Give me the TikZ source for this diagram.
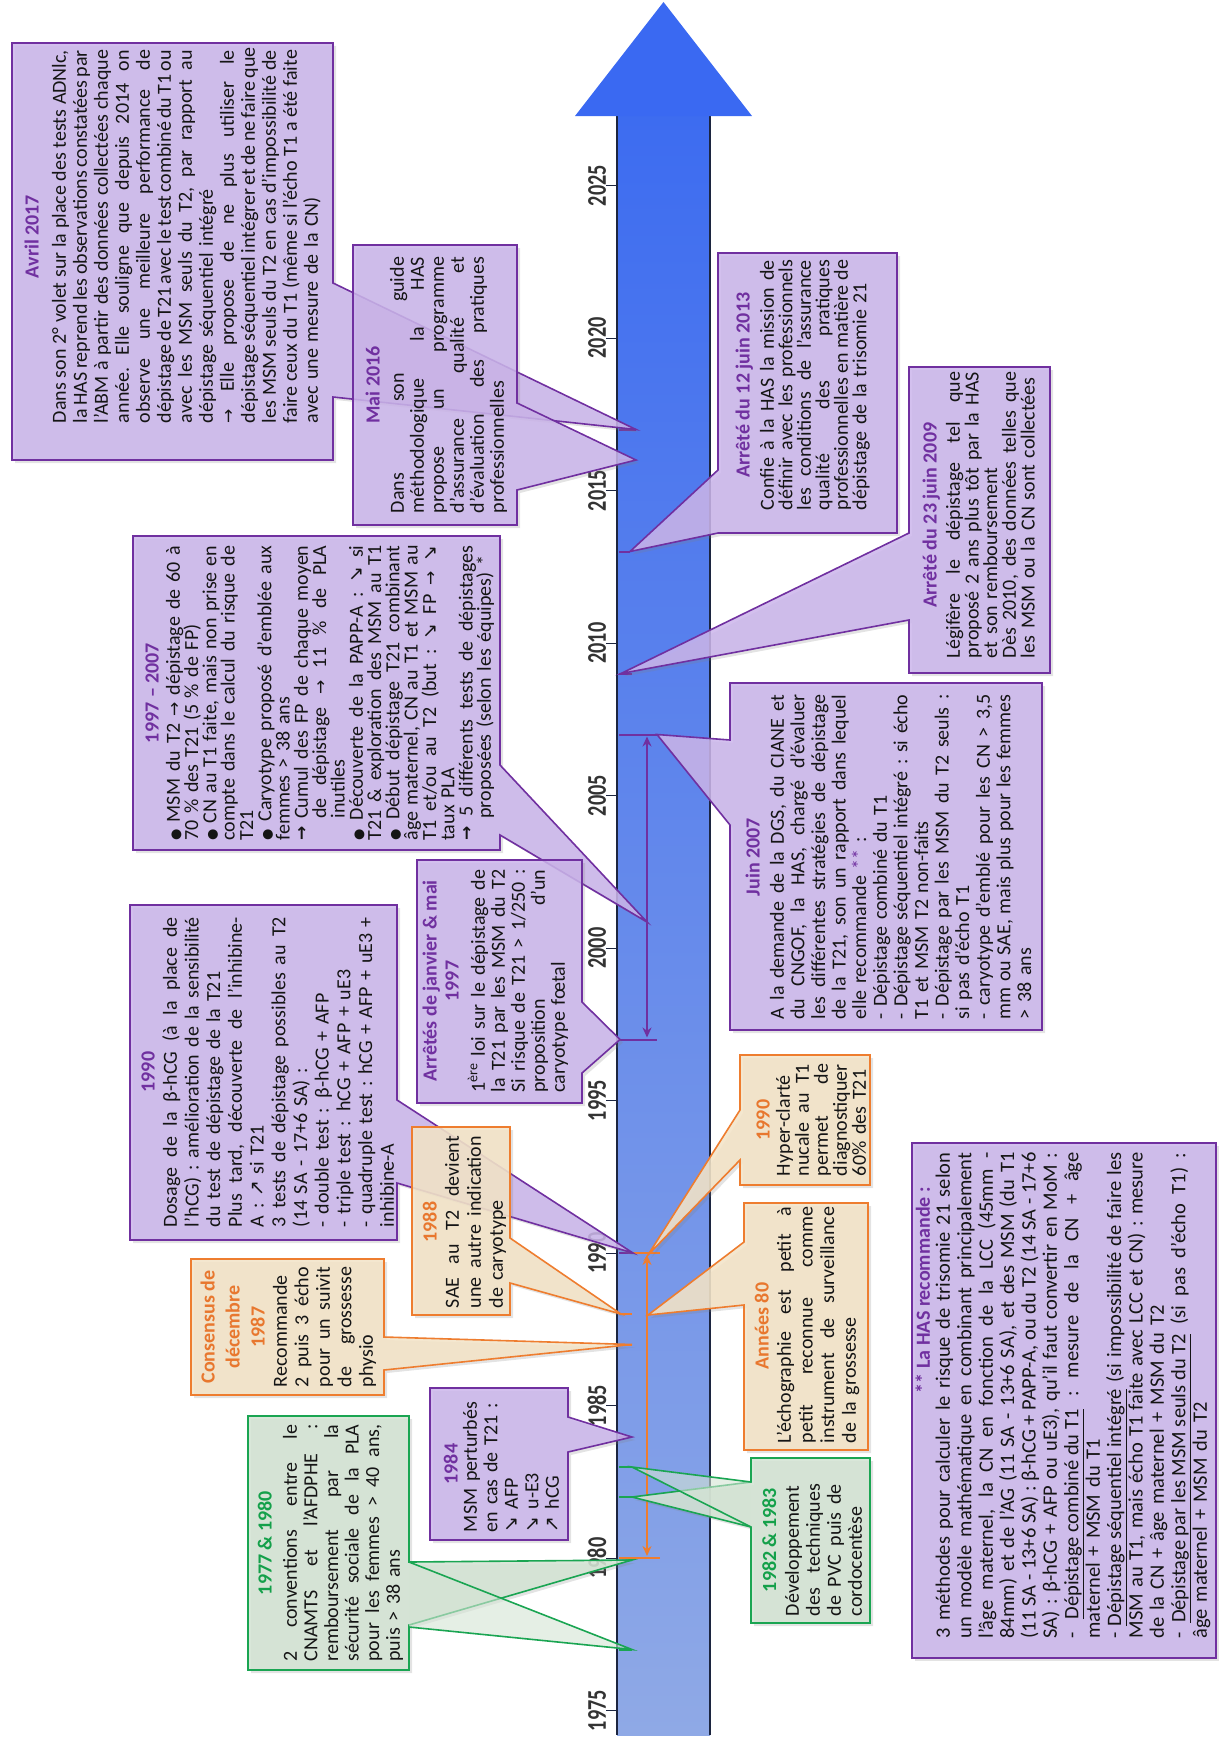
\documentclass[tikz,border=0pt]{standalone}
\usepackage{fontspec}
\setmainfont{Carlito}
\newfontfamily\symf{DejaVu Sans}
\usetikzlibrary{arrows.meta,shadows}
\setlength{\parindent}{0pt}

\definecolor{pvio}{HTML}{7030A0}
\definecolor{pfill}{HTML}{CBB5EB}
\definecolor{oline}{HTML}{EE7D2F}
\definecolor{ofill}{HTML}{F3E4C8}
\definecolor{otitle}{HTML}{E8772E}
\definecolor{gline}{HTML}{1AA552}
\definecolor{gfill}{HTML}{D4E4D4}
\definecolor{gtitle}{HTML}{14A04A}
\definecolor{shafttop}{HTML}{3D6CF0}
\definecolor{shaftbot}{HTML}{8FA9E6}
\definecolor{headblue}{HTML}{3A69F2}
\definecolor{axisline}{HTML}{1C2540}
\definecolor{txt}{HTML}{151515}

% width of the text lines of the current block
\newlength\lw
% one justified line / one left-aligned line of a text block
\newcommand\lj[1]{\noindent\hbox to \lw{\spaceskip=0.226em plus 1fil minus 0.06em\xspaceskip=\spaceskip\rule{0pt}{0.9em}#1}\par}
\newcommand\lf[1]{\noindent\hbox to \lw{\rule{0pt}{0.9em}#1\hfil}\par}
\newcommand\rarr{{\symf\fontsize{17}{17}\selectfont →}}
\newcommand\barr{{\symf\bfseries\fontsize{17}{17}\selectfont →}}
\newcommand\arrup{{\symf\fontsize{19}{19}\selectfont ↗}}
\newcommand\arrdn{{\symf\fontsize{19}{19}\selectfont ↘}}
\newcommand\bul{{\symf\fontsize{13}{13}\selectfont ●}}

\tikzset{
  shd/.style={drop shadow={opacity=0.22, shadow xshift=3pt, shadow yshift=-3pt}},
  pbox/.style={shd, draw=pvio, line width=1.6pt, fill=pfill, fill opacity=0.85, line join=miter},
  obox/.style={shd, draw=oline, line width=1.6pt, fill=ofill, fill opacity=0.88, line join=miter},
  gbox/.style={shd, draw=gline, line width=1.6pt, fill=gfill, fill opacity=0.88, line join=miter},
  body/.style={rotate=90, anchor=north, inner sep=0pt, text width=#1, text=txt,
    execute at begin node={\setlength{\lw}{#1}}},
  pitch/.style={font={\fontsize{20}{#1}\selectfont\lineskiplimit=-100pt}},
  ttl/.style={rotate=90, anchor=base, inner sep=0pt, font=\fontsize{20}{20}\selectfont\bfseries, text=#1},
  yrlab/.style={rotate=90, inner sep=0pt, text=black!80, font=\fontsize{27}{27}\selectfont\bfseries},
  mkp/.style={draw=pvio, line width=2pt},
  mko/.style={draw=oline, line width=2pt},
  mkg/.style={draw=gline, line width=2pt},
}

\begin{document}
\begin{tikzpicture}[x=1pt,y=-1pt]
\useasboundingbox (0,0) rectangle (1219,1737);

% ---------- time axis ----------
\shade[top color=shafttop, bottom color=shaftbot] (617,116) rectangle (710,1735);
\draw[axisline, line width=1.8pt] (617,116) -- (617,1735) (710,116) -- (710,1735);
\fill[headblue] (575,116) -- (663.5,2) -- (752,116) -- cycle;
\foreach \yr in {1975,1980,...,2025}{
  \pgfmathsetmacro\yy{1253-30.5*(\yr-1990)}
  \draw[axisline, line width=1pt] (606,\yy) -- (617,\yy);
  \node[yrlab] (yr\yr) at (597,\yy) {\scalebox{0.75}[1]{\yr}};
}

% ---------- event marks ----------
\coordinate (m17) at (636,429.5);  \draw[mkp] (619,429.5) -- (m17);
\coordinate (m16) at (636,460);    \draw[mkp] (619,460) -- (m16);
\coordinate (m13) at (630,551.5);  \draw[mkp] (619,551.5) -- (m13);
\coordinate (m09) at (621,673.5);  \draw[mkp] (619,673.5) -- (632,673.5);
\coordinate (r07) at (657,734.5);  \draw[mkp] (619,734.5) -- (r07);
\coordinate (r97) at (657,1039.5); \draw[mkp] (619,1039.5) -- (r97);
\draw[mkp, {Stealth[length=10pt,width=9pt]}-{Stealth[length=10pt,width=9pt]}] (647,736.5) -- (647,1037.5);
\coordinate (mrng) at (647,922);
\coordinate (m97) at (620,1039.5);
\coordinate (m90p) at (633,1253);  \draw[mkp] (619,1253) -- (m90p);
\coordinate (m90o) at (648,1255);  \draw[mko] (633,1253) -- (660,1253);
\coordinate (r80) at (660,1558);   \draw[mko] (619,1558) -- (r80);
\draw[mko, {Stealth[length=10pt,width=9pt]}-{Stealth[length=10pt,width=9pt]}] (647,1255) -- (647,1556);
\coordinate (m88) at (621,1314);   \draw[mko] (619,1314) -- (632,1314);
\coordinate (m88o) at (648,1315);
\coordinate (m87) at (632,1344.5); \draw[mko] (619,1344.5) -- (m87);
\coordinate (m84) at (632,1437);   \draw[mkp] (619,1437) -- (m84);
\coordinate (m83) at (632,1467);   \draw[mkg] (619,1467) -- (m83);
\coordinate (m82) at (632,1497);   \draw[mkg] (619,1497) -- (m82);
\coordinate (m80) at (632,1560);   \draw[mkg] (619,1561) -- (m80);
\coordinate (m77) at (632,1649.5); \draw[mkg] (619,1649.5) -- (m77);

% ---------- callout shapes ----------
\path[pbox] (12,43) -- (333,43) -- (333,283) -- (m17) -- (333,397) -- (333,460) -- (12,460) -- cycle;
\path[pbox] (353,245) -- (517,245) -- (517,403) -- (m16) -- (517,490) -- (517,525) -- (353,525) -- cycle;
\path[pbox] (718,253) -- (897,253) -- (897,533) -- (718,533) -- (m13) -- (718,470) -- cycle;
\path[pbox] (909,367) -- (1050,367) -- (1050,673) -- (909,673) -- (909,620) -- (m09) -- (909,533) -- cycle;
\path[pbox] (730,683) -- (1042,683) -- (1042,1030) -- (730,1030) -- (730,825) -- (r07) -- (730,740) -- cycle;
\path[pbox] (133,536) -- (500,536) -- (500,765) -- (mrng) -- (500,835) -- (500,850) -- (133,850) -- cycle;
\path[pbox] (417,860) -- (582,860) -- (582,1002) -- (m97) -- (582,1073) -- (582,1103) -- (417,1103) -- cycle;
\path[pbox] (130,905) -- (397,905) -- (397,1100) -- (m90p) -- (397,1183) -- (397,1240) -- (130,1240) -- cycle;
\path[obox] (412,1127) -- (510,1127) -- (510,1238) -- (m88) -- (510,1283) -- (510,1315) -- (412,1315) -- cycle;
\path[obox] (191,1259) -- (384,1259) -- (384,1337) -- (m87) -- (384,1370) -- (384,1395) -- (191,1395) -- cycle;
\path[pbox] (430,1388) -- (568,1388) -- (568,1417) -- (m84) -- (568,1452) -- (568,1540) -- (430,1540) -- cycle;
\path[gbox] (248,1416) -- (409,1416) -- (409,1562) -- (m80) -- (409,1625) -- (409,1670) -- (248,1670) -- cycle;
\fill[gfill, fill opacity=0.6] (409,1562) -- (m77) -- (409,1627) -- cycle;
\draw[gline, line width=1.6pt, line join=miter] (409,1562) -- (m77) -- (409,1627);
\path[gbox] (751,1458) -- (870,1458) -- (870,1623) -- (751,1623) -- (751,1527) -- (m82) -- (751,1482) -- cycle;
\fill[gfill, fill opacity=0.6] (751,1482) -- (m83) -- (751,1527) -- cycle;
\draw[gline, line width=1.6pt, line join=miter] (751,1482) -- (m83) -- (751,1527);
\path[obox] (744,1203) -- (868,1203) -- (868,1450) -- (744,1450) -- (744,1305) -- (m88o) -- (744,1242) -- cycle;
\path[obox] (740,1055) -- (870,1055) -- (870,1185) -- (740,1185) -- (740,1160) -- (m90o) -- (740,1110) -- cycle;
\path[pbox] (912,1143) rectangle (1216,1658);

% ---------- texts ----------
% April 2017
\node[ttl=pvio] (t17) at (38.6,236.5) {Avril 2017};
\node[body=373pt, pitch=21] (b17) at (47.6,236.5) {%
\lj{Dans son 2° volet sur la place des tests ADNlc,}
\lj{la HAS reprend les observations constatées par}
\lj{l’ABM à partir des données collectées chaque}
\lj{année. Elle souligne que depuis 2014 on}
\lj{observe une meilleure performance de}
\lj{dépistage de T21 avec le test combiné du T1 ou}
\lj{avec les MSM seuls du T2, par rapport au}
\lf{dépistage séquentiel intégré}
\lj{\rarr{} Elle propose de ne plus utiliser le}
\lj{dépistage séquentiel intégrer et de ne faire que}
\lj{les MSM seuls du T2 en cas d’impossibilité de}
\lj{faire ceux du T1 (même si l’écho T1 a été faite}
\lf{avec une mesure de la CN)}};

% May 2016
\node[ttl=pvio] (t16) at (379.6,385) {Mai 2016};
\node[body=256pt, pitch=20] (b16) at (385.6,385) {%
\lj{Dans son guide}
\lj{méthodologique la HAS}
\lj{propose un programme}
\lj{d’assurance qualité et}
\lj{d’évaluation des pratiques}
\lf{professionnelles}};

% June 2013
\node[ttl=pvio] (t13) at (749.6,385) {Arrêté du 12 juin 2013};
\node[body=250pt, pitch=18.5] (b13) at (755.6,385) {%
\lj{Confie à la HAS la mission de}
\lj{définir avec les professionnels}
\lj{les conditions de l’assurance}
\lj{qualité des pratiques}
\lj{professionnelles en matière de}
\lf{dépistage de la trisomie 21}};

% June 2009
\node[ttl=pvio] (t09) at (936.6,515) {Arrêté du 23 juin 2009};
\node[body=286pt, pitch=18.7] (b09) at (941.6,515) {%
\lj{Légifère le dépistage tel que}
\lj{proposé 2 ans plus tôt par la HAS}
\lf{et son remboursement}
\lj{Dès 2010, des données telles que}
\lf{les MSM ou la CN sont collectées}};

% June 2007
\node[ttl=pvio] (t07) at (759.6,857) {Juin 2007};
\node[body=325pt, pitch=20.6] (b07) at (765.6,857) {%
\lj{A la demande de la DGS, du CIANE et}
\lj{du CNGOF, la HAS, chargé d’évaluer}
\lj{les différentes stratégies de dépistage}
\lj{de la T21, son un rapport dans lequel}
\lf{elle recommande \textcolor{pvio}{**} :}
\lf{- Dépistage combiné du T1}
\lj{- Dépistage séquentiel intégré : si écho}
\lf{T1 et MSM T2 non-faits}
\lj{- Dépistage par les MSM du T2 seuls :}
\lf{si pas d’écho T1}
\lj{- caryotype d’emblé pour les CN > 3,5}
\lj{mm ou SAE, mais plus pour les femmes}
\lf{> 38 ans}};

% 1997 - 2007
\node[ttl=pvio] (trng) at (158.6,693) {1997 – 2007};
\node[body=295pt, pitch=18.3] (brng) at (161.6,693) {%
\lj{\bul{} MSM du T2 \rarr{} dépistage de 60 à}
\lf{70 \% des T21 (5 \% de FP)}
\lj{\bul{} CN au T1 faite, mais non prise en}
\lj{compte dans le calcul du risque de}
\lf{T21}
\lj{\bul{} Caryotype proposé d’emblée aux}
\lf{femmes > 38 ans}
\lj{\barr{} Cumul des FP de chaque moyen}
\lj{\hspace*{1.1em}de dépistage \rarr{} 11 \% de PLA}
\lf{\hspace*{1.1em}inutiles}
\lj{\bul{} Découverte de la PAPP-A : \arrdn{} si}
\lj{T21 \& exploration des MSM au T1}
\lj{\bul{} Début dépistage T21 combinant}
\lj{âge maternel, CN au T1 et MSM au}
\lj{T1 et/ou au T2 (but : \arrdn{} FP \rarr{} \arrdn}
\lf{taux PLA}
\lj{\barr{} 5 différents tests de dépistages}
\lf{\hspace*{1.1em}proposées (selon les équipes) *}};

% January & May 1997
\node[ttl=pvio] (t97a) at (436.6,981) {Arrêtés de janvier \& mai};
\node[ttl=pvio] (t97b) at (458.6,981) {1997};
\node[body=223pt, pitch=20] (b97) at (466.6,981) {%
\lj{1\textsuperscript{ère} loi sur le dépistage de}
\lj{la T21 par les MSM du T2}
\lj{Si risque de T21 > 1/250 :}
\lj{proposition d’un}
\lf{caryotype fœtal}};

% 1990, serum markers
\node[ttl=pvio] (t90p) at (154.6,1072) {1990};
\node[body=310pt, pitch=21.7] (b90p) at (158.6,1072) {%
\lj{Dosage de la β-hCG (à la place de}
\lj{l’hCG) : amélioration de la sensibilité}
\lf{du test de dépistage de la T21}
\lj{Plus tard, découverte de l’inhibine-}
\lf{A : \arrup{} si T21}
\lj{3 tests de dépistage possibles au T2}
\lf{(14 SA - 17+6 SA) :}
\lf{- double test : β-hCG + AFP}
\lf{- triple test : hCG + AFP + uE3}
\lj{- quadruple test : hCG + AFP + uE3 +}
\lf{inhibine-A}};

% 1988
\node[ttl=otitle] (t88) at (436.6,1222) {1988};
\node[body=172pt, pitch=22] (b88) at (440.6,1222) {%
\lj{SAE au T2 devient}
\lj{une autre indication}
\lf{de caryotype}};

% December 1987
\node[ttl=otitle] (t87a) at (214.6,1327) {Consensus de};
\node[ttl=otitle] (t87b) at (239.6,1327) {décembre};
\node[ttl=otitle] (t87c) at (264.6,1327) {1987};
\node[body=120pt, pitch=21.5] (b87) at (268.6,1327) {%
\lf{Recommande}
\lj{2 puis 3 écho}
\lj{pour un suivit}
\lj{de grossesse}
\lf{physio}};

% 1984
\node[ttl=pvio] (t84) at (457.6,1464) {1984};
\node[body=135pt, pitch=20.5] (b84) at (458.6,1464.5) {%
\lf{MSM perturbés}
\lf{en cas de T21 :}
\lf{\arrdn{} AFP}
\lf{\arrdn{} u-E3}
\lf{\arrup{} hCG}};

% 1977 & 1980
\node[ttl=gtitle] (t77) at (271.6,1543) {1977 \& 1980};
\node[body=237pt, pitch=20.6] (b77) at (278.6,1543) {%
\lj{2 conventions entre le}
\lj{CNAMTS et l’AFDPHE :}
\lj{remboursement par la}
\lj{sécurité sociale de la PLA}
\lj{pour les femmes > 40 ans,}
\lf{puis > 38 ans}};

% 1982 & 1983
\node[ttl=gtitle] (t82) at (776.1,1540) {1982 \& 1983};
\node[body=132pt, pitch=21] (b82) at (780.6,1550) {%
\lj{Développement}
\lj{des techniques}
\lj{de PVC puis de}
\lf{cordocentèse}};

% the eighties
\node[ttl=otitle] (t80) at (768.6,1326) {Années 80};
\node[body=236pt, pitch=21.7] (b80) at (772.6,1325) {%
\lj{L’échographie est petit à}
\lj{petit reconnue comme}
\lj{instrument de surveillance}
\lf{de la grossesse}};

% 1990, nuchal translucency
\node[ttl=otitle] (t90o) at (769.6,1120) {1990};
\node[body=112pt, pitch=19] (b90o) at (771.6,1120) {%
\lf{Hyper-clarté}
\lj{nucale au T1}
\lj{permet de}
\lj{diagnostiquer}
\lf{60\% des T21}};

% HAS recommendations
\node[ttl=pvio] (thas) at (929.9,1290) {** La HAS recommande :};
\node[body=486pt, font={\fontsize{20.5}{21.4}\selectfont\lineskiplimit=-100pt}] (bhas) at (931.3,1395.5) {%
\lj{3 méthodes pour calculer le risque de trisomie 21 selon}
\lj{un modèle mathématique en combinant principalement}
\lj{l’âge maternel, la CN en fonction de la LCC (45mm -}
\lj{84mm) et de l’AG (11 SA - 13+6 SA), et des MSM (du T1}
\lj{(11 SA - 13+6 SA) : β-hCG + PAPP-A, ou du T2 (14 SA - 17+6}
\lj{SA) : β-hCG + AFP ou uE3), qu’il faut convertir en MoM :}
\lj{- \underline{Dépistage combiné du T1} : mesure de la CN + âge}
\lf{maternel + MSM du T1}
\lj{- \underline{Dépistage séquentiel intégré} (si impossibilité de faire les}
\lj{MSM au T1, mais écho T1 faite avec LCC et CN) : mesure}
\lf{de la CN + âge maternel + MSM du T2}
\lj{- \underline{Dépistage par les MSM seuls du T2} (si pas d’écho T1) :}
\lf{âge maternel + MSM du T2}};

\end{tikzpicture}
\end{document}
